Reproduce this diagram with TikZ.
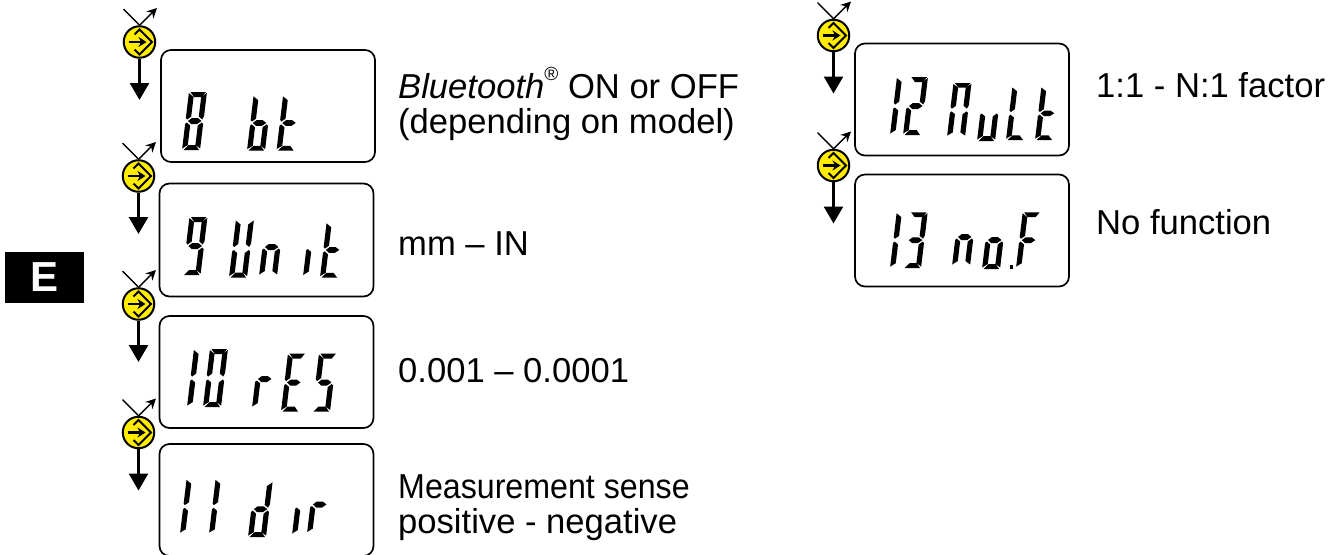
\documentclass[tikz,border=0pt]{standalone}
\usepackage{fontspec}
\setmainfont{Liberation Sans}
\usetikzlibrary{arrows.meta}
\tikzset{
  lcdbox/.style={draw=black,line width=1.7pt,rounded corners=10pt,fill=white},
  btnc/.style={circle,draw=black,line width=2pt,fill={rgb,255:red,255;green,236;blue,0},minimum size=31.5pt,inner sep=0pt},
  lbl/.style={anchor=base west,inner sep=0pt,font=\fontsize{34.6}{36}\selectfont},
  dnarrow/.style={line width=2.6pt,-{Triangle[length=17pt,width=19pt]}},
  uparrow/.style={line width=1.4pt,-{Stealth[length=10pt,width=10pt]}},
  seg/.style={fill=black,draw=none},
}
% single LCD segments
\newcommand{\sgA}{\path[seg] (1.5,58)--(17,58)--(13.5,53)--(5.5,53)--cycle;}
\newcommand{\sgB}{\path[seg] (18,57)--(18,34)--(16.5,30.5)--(12.8,33.5)--(12.8,53)--cycle;}
\newcommand{\sgC}{\path[seg] (18,26)--(18,1.5)--(12.8,5)--(12.8,24.5)--(16.5,27.5)--cycle;}
\newcommand{\sgD}{\path[seg] (1.5,0)--(17,0)--(13,5)--(6,5)--cycle;}
\newcommand{\sgE}{\path[seg] (0,1.5)--(0,26)--(1.5,27.5)--(5.2,24.5)--(5.2,5)--cycle;}
\newcommand{\sgF}{\path[seg] (0,32)--(0,57)--(5.2,53)--(5.2,33.5)--(1.5,30.5)--cycle;}
\newcommand{\sgG}{\path[seg] (2.5,29)--(6,32)--(12,32)--(16,29)--(12,26)--(6,26)--cycle;}
% \lcdchar[height factor]{x}{y}{segments}: x,y = lower left of the character in pixels
\newcommand{\lcdchar}[4][1]{\begin{scope}[shift={(#2,#3)},x=1pt,y=1pt,xslant=0.12,yscale=#1]#4\end{scope}}
\newcommand{\lcEight}{\sgA\sgB\sgC\sgD\sgE\sgF\sgG}
\newcommand{\lcNine}{\sgA\sgB\sgC\sgD\sgF\sgG}
\newcommand{\lcZero}{\sgA\sgB\sgC\sgD\sgE\sgF}
\newcommand{\lcOne}{\sgE\sgF}
\newcommand{\lcTwo}{\sgA\sgB\sgD\sgE\sgG}
\newcommand{\lcThree}{\sgA\sgB\sgC\sgD\sgG}
\newcommand{\lcFive}{\sgA\sgC\sgD\sgF\sgG}
\newcommand{\lcLb}{\sgC\sgD\sgE\sgF\sgG}
\newcommand{\lcLt}{\sgD\sgE\sgF\sgG}
\newcommand{\lcLU}{\sgB\sgC\sgD\sgE\sgF}
\newcommand{\lcLn}{\sgC\sgE\sgG}
\newcommand{\lcLr}{\sgE\sgG}
\newcommand{\lcLE}{\sgA\sgD\sgE\sgF\sgG}
\newcommand{\lcLd}{\sgB\sgC\sgD\sgE\sgG}
\newcommand{\lcLM}{\sgA\sgB\sgC\sgE\sgF}
\newcommand{\lcLu}{\sgC\sgD\sgE}
\newcommand{\lcLL}{\sgD\sgE\sgF}
\newcommand{\lcLo}{\sgC\sgD\sgE\sgG}
\newcommand{\lcLF}{\sgA\sgE\sgF\sgG}
% \btn{name}{x}{y}: push button with the two crossing strokes and the down arrow
\newcommand{\btn}[3]{%
  \node[btnc] (#1) at (#2,#3) {};
  \begin{scope}[shift={(#1.center)}]
    \draw[line width=1.8pt,line join=miter] (-5,-7.5)--(0,-12.5)--(12.5,0)--(0,12.5)--(-5,7.5);
    \draw[line width=2.4pt,-{Stealth[length=8pt,width=10pt]}] (-11,0)--(7,0);
    \coordinate (#1x) at (-16,-33);
    \coordinate (#1u) at (17.5,-34);
    \coordinate (#1d) at (0,58);
  \end{scope}
  \draw[line width=1.4pt] (#1x)--(#1.north);
  \draw[uparrow] (#1.north)--(#1u);
  \draw[dnarrow] (#1.south)--(#1d);
}
\begin{document}
\begin{tikzpicture}[x=1pt,y=-1pt]
\useasboundingbox (0,0) rectangle (1332,554);
\path[fill=white] (0,0) rectangle (1332,554);

% tab
\node[fill=black,text=white,minimum width=79pt,minimum height=51pt,inner sep=0pt,font=\bfseries\fontsize{42}{42}\selectfont] (tab) at (44.5,277.5) {E};

% displays
\node[lcdbox,minimum width=214pt,minimum height=112pt,inner sep=0pt] (d8) at (268,106) {};
\node[lcdbox,minimum width=214pt,minimum height=113pt,inner sep=0pt] (d9) at (266.5,240) {};
\node[lcdbox,minimum width=214pt,minimum height=112pt,inner sep=0pt] (d10) at (266.5,372) {};
\node[lcdbox,minimum width=214pt,minimum height=112pt,inner sep=0pt] (d11) at (266.5,500) {};
\node[lcdbox,minimum width=214pt,minimum height=112pt,inner sep=0pt] (d12) at (962,99.5) {};
\node[lcdbox,minimum width=214pt,minimum height=112pt,inner sep=0pt] (d13) at (962,230.5) {};

% buttons
\btn{b8}{139.5}{42}
\btn{b9}{138.5}{176}
\btn{b10}{138.5}{304}
\btn{b11}{138.5}{432.5}
\btn{b12}{833.5}{35.5}
\btn{b13}{833.5}{165.5}

% display 8 bt
\lcdchar{182}{150}{\lcEight}
\lcdchar[0.95]{247}{150.5}{\lcLb}
\lcdchar[0.95]{276.5}{150.5}{\lcLt}
% display 9 Unit
\lcdchar{182.5}{275}{\lcNine}
\lcdchar{229}{277.5}{\lcLU}
\lcdchar{259}{276}{\lcLn}
\lcdchar{303}{276.5}{\sgE}
\lcdchar[0.95]{320}{277.5}{\lcLt}
% display 10 rES
\lcdchar{187}{407}{\lcOne}
\lcdchar{203}{407}{\lcZero}
\lcdchar{252}{408}{\lcLr}
\lcdchar{281}{411.5}{\lcLE}
\lcdchar{312}{411.5}{\lcFive}
% display 11 dir
\lcdchar[0.95]{180}{534}{\lcOne}
\lcdchar[0.95]{209}{534}{\lcOne}
\lcdchar[0.96]{248}{537}{\lcLd}
\lcdchar{292}{535}{\sgE}
\lcdchar{307}{533.5}{\lcLr}
% display 12 Mult
\lcdchar{890}{135}{\lcOne}
\lcdchar{903}{135}{\lcTwo}
\lcdchar[0.93]{947}{137}{\lcLM}
\lcdchar{977}{141}{\lcLu}
\lcdchar[0.92]{1006}{140}{\lcLL}
\lcdchar[0.92]{1035}{140}{\lcLt}
% display 13 no.F
\lcdchar[0.96]{890}{268}{\lcOne}
\lcdchar[0.96]{903}{268}{\lcThree}
\lcdchar{952}{266}{\lcLn}
\lcdchar{982}{269}{\lcLo}
\path[seg] (1010,264.5) rectangle (1013,269);
\lcdchar[0.96]{1016}{268}{\lcLF}

% labels
\node[lbl] (t8a) at (398,98) {\textit{Bluetooth}\raisebox{0.5em}{\fontsize{19}{19}\selectfont ®} ON or OFF};
\node[lbl] (t8b) at (398,133) {(depending on model)};
\node[lbl] (t9) at (398,255) {mm – IN};
\node[lbl] (t10) at (398,382) {0.001 – 0.0001};
\node[lbl] (t11a) at (398,498) {\scalebox{0.93}[1]{Measurement sense}};
\node[lbl] (t11b) at (398,533) {positive - negative};
\node[lbl] (t12) at (1096,97) {1:1 - N:1 factor};
\node[lbl] (t13) at (1096,234) {No function};
\end{tikzpicture}
\end{document}
